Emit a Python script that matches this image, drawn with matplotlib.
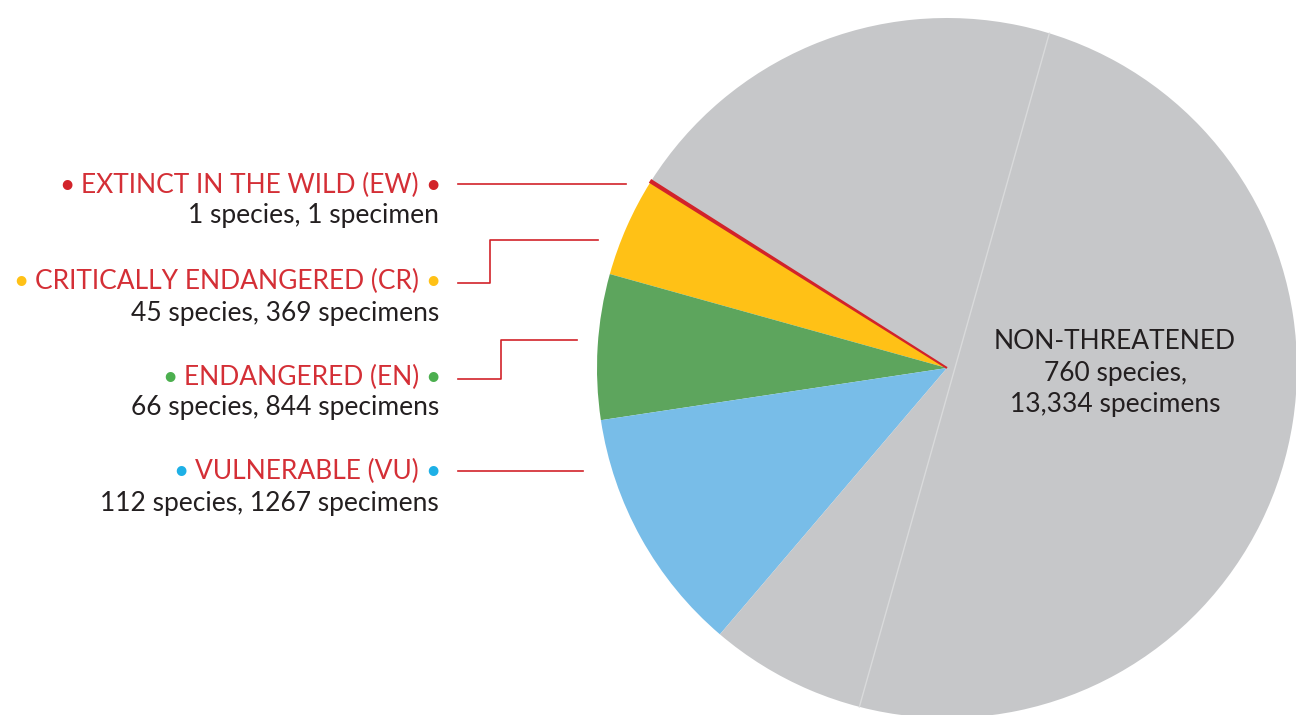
import matplotlib.pyplot as plt
import numpy as np

# data
categories = ['EXTINCT IN THE WILD (EW)', 'CRITICALLY ENDANGERED (CR)',
              'ENDANGERED (EN)', 'VULNERABLE (VU)', 'NON-THREATENED']
species = [1, 45, 66, 112, 760]
specimens = ['1 specimen', '369 specimens', '844 specimens', '1267 specimens', '13,334 specimens']
colors = ['#D2232A', '#FFC116', '#5DA55D', '#78BDE8', '#C6C7C9']
dot_colors = ['#D2232A', '#FFC116', '#4CAF4F', '#1EB0E6']

RED = '#D42F36'
DARK = '#231F20'
FONT = 'Lato'

fig = plt.figure(figsize=(12.96, 7.15), dpi=100)
ax = fig.add_axes([0, 0, 1, 1])

cx, cy, r = 947, 347, 350
wedges, _ = ax.pie(species, colors=colors, startangle=147.6, counterclock=True,
                   radius=r, center=(cx, cy), wedgeprops=dict(linewidth=0))
# the 1-species slice is very thin, give it an outline so it shows
wedges[0].set_edgecolor(colors[0])
wedges[0].set_linewidth(1.5)
wedges[0].set_zorder(5)

# faint divider across the non-threatened slice
a1, a2 = np.deg2rad(73), np.deg2rad(255.5)
ax.plot([cx + r * np.cos(a1), cx + r * np.cos(a2)], [cy + r * np.sin(a1), cy + r * np.sin(a2)],
        color='#D9DADB', lw=1, zorder=3)

ax.set_xlim(0, 1296)
ax.set_ylim(0, 715)
ax.axis('off')

# labels on the left
label_y = [530, 434, 338, 244]
sub_y = [499, 402, 307, 211]
xr = 419
fs = 19
texts = []
for i in range(4):
    t = ax.text(xr, label_y[i], categories[i], ha='right', va='center',
                fontsize=fs, color=RED, family=FONT)
    texts.append(t)
    ax.text(xr + 14, label_y[i], '\u2022', ha='center', va='center',
            fontsize=fs, color=dot_colors[i], family=FONT)
    unit = 'species'
    ax.text(xr + 20, sub_y[i], f'{species[i]} {unit}, {specimens[i]}', ha='right',
            va='center', fontsize=fs, color=DARK, family=FONT)

fig.canvas.draw()
renderer = fig.canvas.get_renderer()
inv = ax.transData.inverted()
for i, t in enumerate(texts):
    bb = t.get_window_extent(renderer)
    x0 = inv.transform((bb.x0, bb.y0))[0]
    ax.text(x0 - 14, label_y[i], '\u2022', ha='center', va='center',
            fontsize=fs, color=dot_colors[i], family=FONT)

# leader lines
lc = '#D2232A'
ax.plot([458, 626], [531, 531], color=lc, lw=1.2)
ax.plot([458, 490, 490, 598], [432, 432, 475, 475], color=lc, lw=1.2)
ax.plot([458, 501, 501, 577], [336, 336, 375, 375], color=lc, lw=1.2)
ax.plot([458, 583], [244, 244], color=lc, lw=1.2)

# non-threatened label
ax.text(1115, 342, f'{categories[4]}\n{species[4]} species,\n{specimens[4]}',
        ha='center', va='center', fontsize=fs, color=DARK, family=FONT,
        linespacing=1.32)

fig.savefig('out.png', dpi=100)
